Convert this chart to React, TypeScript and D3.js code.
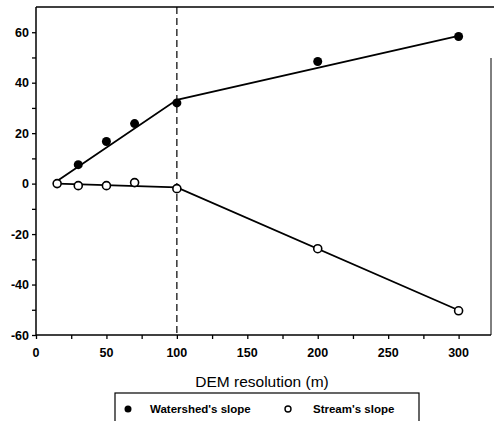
import React, { useEffect, useRef } from 'react';
import * as d3 from 'd3';

const resolutions = [15, 30, 50, 70, 100, 200, 300];
const watershedSlope = [null, 7.5, 16.7, 23.8, 32, 48.4, 58.3];
const streamSlope = [0, -0.8, -0.8, 0.4, -2, -25.8, -50.4];
// fitted piecewise lines
const watershedFit = [[15, 1], [100, 33.2], [300, 58.6]];
const streamFit = [[15, 0], [100, -1.5], [300, -50.2]];
const xTicks = [0, 50, 100, 150, 200, 250, 300];
const yTicks = [-60, -40, -20, 0, 20, 40, 60];

export default function App() {
  const ref = useRef<SVGSVGElement>(null);

  useEffect(() => {
    const svg = d3.select(ref.current);
    svg.selectAll('*').remove();
    const width = 494;
    const height = 421;
    const x = d3.scaleLinear().domain([0, 323]).range([36, 491]);
    const y = d3.scaleLinear().domain([-60, 70]).range([335, 7]);
    const font = 'Arial, "Liberation Sans", sans-serif';

    svg.attr('width', width).attr('height', height);

    // frame
    svg.append('line').attr('x1', 36).attr('x2', 494).attr('y1', 7).attr('y2', 7)
      .attr('stroke', '#000').attr('stroke-width', 1.5);
    svg.append('line').attr('x1', 491).attr('x2', 491).attr('y1', 58).attr('y2', 335)
      .attr('stroke', '#000').attr('stroke-width', 1);

    // x axis
    const gx = svg.append('g').attr('transform', 'translate(0,335)');
    gx.call(d3.axisBottom(x).tickValues(d3.range(0, 325, 25)).tickSize(4).tickFormat(() => ''));
    gx.select('.domain').attr('stroke-width', 1.5).attr('d', 'M36,0H491');
    gx.selectAll('.tick line').attr('stroke-width', 1.3);
    gx.selectAll('.tick text').remove();
    xTicks.forEach(t => {
      svg.append('text').attr('x', x(t)).attr('y', 357).attr('text-anchor', 'middle')
        .attr('font-family', font).attr('font-weight', 'bold').attr('font-size', 12.5).text(t);
    });

    // y axis
    const gy = svg.append('g').attr('transform', 'translate(36,0)');
    gy.call(d3.axisLeft(y).tickValues(d3.range(-60, 70, 10)).tickSize(4).tickFormat(() => ''));
    gy.select('.domain').attr('stroke-width', 1.5).attr('d', 'M0,7V335');
    gy.selectAll('.tick line').attr('stroke-width', 1.3);
    gy.selectAll('.tick text').remove();
    yTicks.forEach(t => {
      svg.append('text').attr('x', 29).attr('y', y(t) + 4.5).attr('text-anchor', 'end')
        .attr('font-family', font).attr('font-weight', 'bold').attr('font-size', 12.5).text(t);
    });

    // dashed line at 100 m
    svg.append('line').attr('x1', x(100)).attr('x2', x(100)).attr('y1', 7).attr('y2', 335)
      .attr('stroke', '#000').attr('stroke-width', 1.2).attr('stroke-dasharray', '7,4');

    const line = d3.line<number[]>().x(d => x(d[0])).y(d => y(d[1]));
    svg.append('path').attr('d', line(watershedFit)).attr('fill', 'none')
      .attr('stroke', '#000').attr('stroke-width', 1.8);
    svg.append('path').attr('d', line(streamFit)).attr('fill', 'none')
      .attr('stroke', '#000').attr('stroke-width', 1.8);

    resolutions.forEach((r, i) => {
      const w = watershedSlope[i];
      if (w !== null) {
        svg.append('circle').attr('cx', x(r)).attr('cy', y(w)).attr('r', 4.5).attr('fill', '#000');
      }
      svg.append('circle').attr('cx', x(r)).attr('cy', y(streamSlope[i])).attr('r', 4)
        .attr('fill', '#fff').attr('stroke', '#000').attr('stroke-width', 1.6);
    });

    // axis title
    svg.append('text').attr('x', 262).attr('y', 387).attr('text-anchor', 'middle')
      .attr('font-family', font).attr('font-size', 15.5).text('DEM resolution (m)');

    // legend
    svg.append('rect').attr('x', 115).attr('y', 393).attr('width', 304).attr('height', 40)
      .attr('fill', 'none').attr('stroke', '#000').attr('stroke-width', 1.2);
    svg.append('circle').attr('cx', 128).attr('cy', 409).attr('r', 3.5).attr('fill', '#000');
    svg.append('text').attr('x', 150).attr('y', 413).attr('font-family', font)
      .attr('font-weight', 'bold').attr('font-size', 11.5).text("Watershed's slope");
    svg.append('circle').attr('cx', 288).attr('cy', 409).attr('r', 3).attr('fill', '#fff')
      .attr('stroke', '#000').attr('stroke-width', 1.4);
    svg.append('text').attr('x', 313).attr('y', 413).attr('font-family', font)
      .attr('font-weight', 'bold').attr('font-size', 11.5).text("Stream's slope");
  }, []);

  return (
    <div style={{ position: 'absolute', left: 0, top: 0 }}>
      <svg ref={ref} style={{ display: 'block' }} />
    </div>
  );
}
